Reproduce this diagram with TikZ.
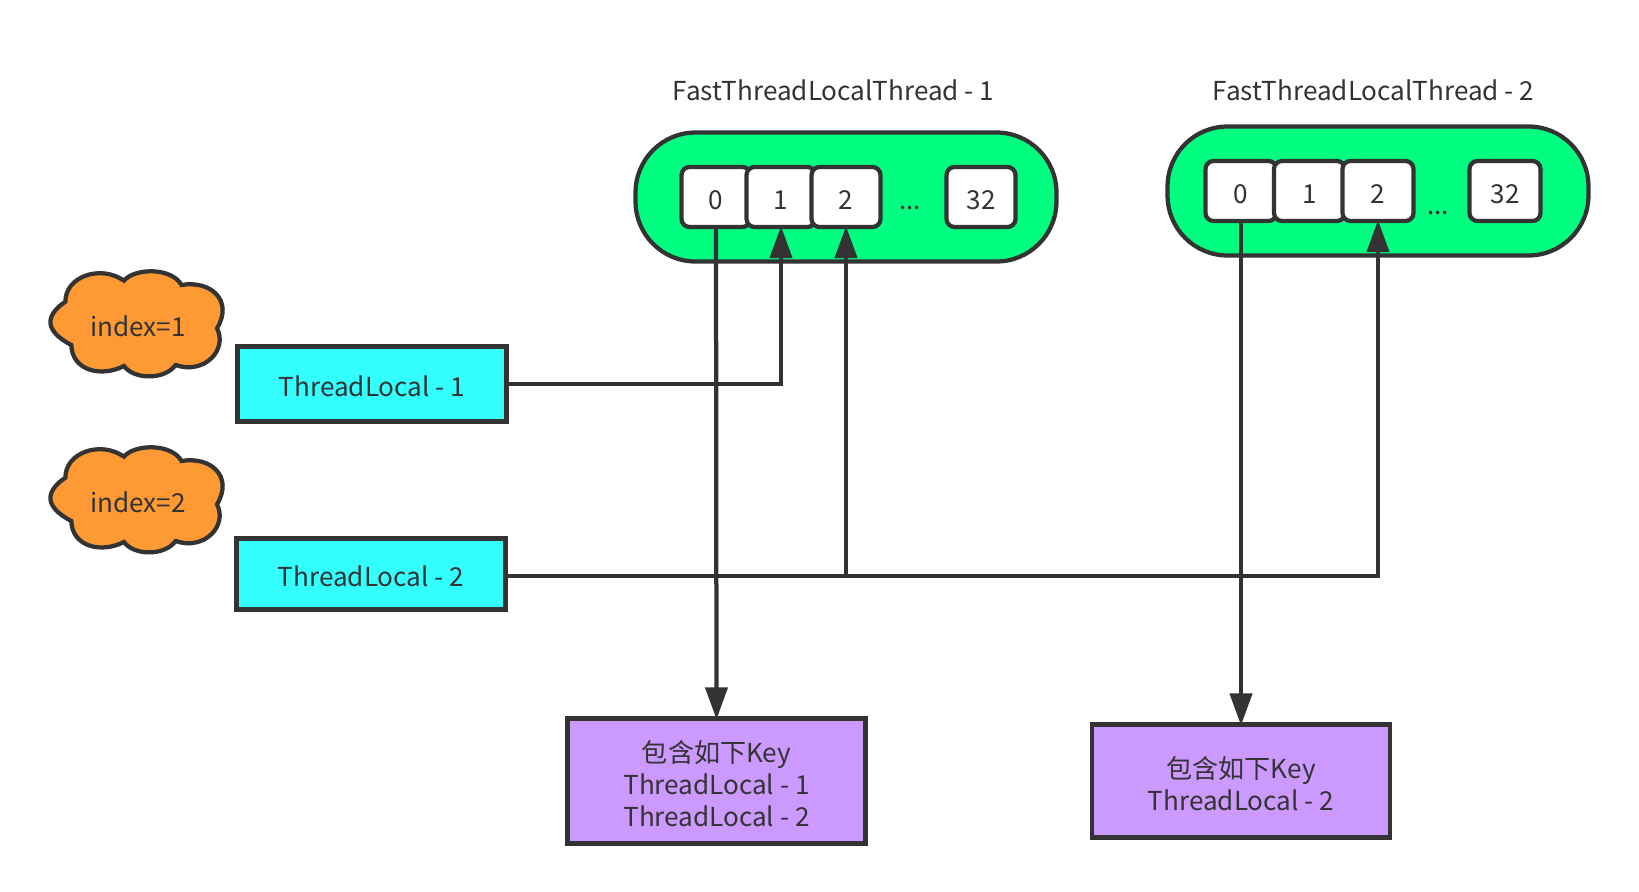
\documentclass[tikz,border=0pt]{standalone}
\usepackage{fontspec}
\setmainfont{Noto Sans CJK SC}
\usepackage{xcolor}
\usetikzlibrary{arrows.meta}

\definecolor{ink}{HTML}{333333}
\definecolor{threadgreen}{HTML}{00FF80}
\definecolor{localcyan}{HTML}{33FFFF}
\definecolor{indexorange}{HTML}{FF9933}
\definecolor{keypurple}{HTML}{CC99FF}

\newcommand{\toppad}{\rule{0pt}{15.5pt}}

\tikzset{
	base/.style={text=ink, font=\fontsize{14.85}{18.2}\selectfont, inner sep=0pt},
	lowtext/.style={text height=14.6pt, text depth=0pt},
	threadbox/.style={base, draw=ink, fill=threadgreen, line width=.085cm, rounded corners=1.2cm, minimum width=8.42cm},
	cell/.style={base, lowtext, draw=ink, fill=white, line width=.085cm, rounded corners=.16cm, minimum height=1.2cm},
	localbox/.style={base, lowtext, draw=ink, fill=localcyan, line width=.085cm, minimum width=5.38cm},
	keybox/.style={base, draw=ink, fill=keypurple, line width=.085cm, minimum width=5.96cm, align=center},
	flow/.style={draw=ink, line width=.085cm, shorten >=-.06cm, -{Triangle[length=.64cm,width=.44cm]}}
}

\begin{document}
\begin{tikzpicture}[x=.02cm, y=-.02cm]
	\useasboundingbox (0,0) rectangle (1639,892);

	% thread titles and bodies
	\node[base] (titleA) at (833.5,90) {FastThreadLocalThread - 1};
	\node[base] (titleB) at (1373.5,90) {FastThreadLocalThread - 2};
	\node[threadbox, minimum height=2.58cm] (threadA) at (846,197) {};
	\node[threadbox, minimum height=2.58cm] (threadB) at (1378,191) {};

	% slots
	\foreach \name/\x/\lab in {A0/716/0, A1/781/1, A2/846/2, A32/981/32}
	{
		\node[cell, minimum width=1.38cm] (cell\name) at (\x,197) {\lab};
	}
	\foreach \name/\x/\lab in {B0/1241/0, B1/1309.5/1, B2/1378/2, B32/1505/32}
	{
		\node[cell, minimum width=1.42cm] (cell\name) at (\x,191) {\lab};
	}
	\node[base] (dotsA) at (910,208) {...};
	\node[base] (dotsB) at (1438,213) {...};

	% index clouds
	\foreach \name/\dy/\lab in {cloudA/0/index=1, cloudB/176/index=2}
	{
		\draw[draw=ink, fill=indexorange, line width=.085cm, shift={(0,\dy)}]
			(65.4,301.7) .. controls (65,277) and (100,264) .. (124,280.7)
			.. controls (135,267.5) and (172,267.5) .. (181.5,285)
			.. controls (210,280) and (234,300) .. (217,328.3)
			.. controls (228,350) and (204,375) .. (175.6,365)
			.. controls (165,380) and (134,380) .. (124,366)
			.. controls (100,378) and (72,370) .. (71.3,345)
			.. controls (39,328) and (50,312) .. (65.4,301.7) -- cycle;
		\node[base] (\name) at (138,326+\dy) {\lab};
	}

	% thread locals
	\node[localbox, minimum height=1.5cm] (localA) at (372,384) {ThreadLocal - 1};
	\node[localbox, minimum height=1.42cm] (localB) at (371,574) {ThreadLocal - 2};

	% key tables
	\node[keybox, minimum height=2.5cm] (keyA) at (716.5,781) {\toppad 包含如下Key\\ThreadLocal - 1\\ThreadLocal - 2};
	\node[keybox, minimum height=2.26cm] (keyB) at (1241,781) {\toppad 包含如下Key\\ThreadLocal - 2};

	% connectors
	\draw[flow] (cellA0.south) -- (keyA.north);
	\draw[flow] (cellB0.south) -- (keyB.north);
	\draw[flow] (localA.east) -| (cellA1.south);
	\draw[flow] ([yshift=-.04cm]localB.east) -| (cellA2.south);
	\draw[flow] ([yshift=-.04cm]localB.east) -| (cellB2.south);
\end{tikzpicture}
\end{document}
